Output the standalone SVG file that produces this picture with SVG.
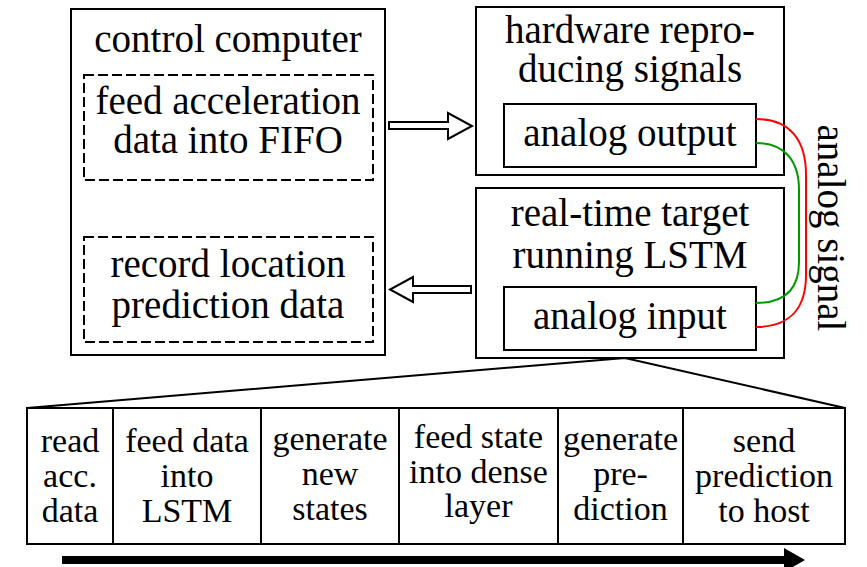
<svg xmlns="http://www.w3.org/2000/svg" width="867" height="567" viewBox="0 0 867 567">
<style>
.box{fill:none;stroke:#000;stroke-width:2}
.dash{fill:none;stroke:#000;stroke-width:2;stroke-dasharray:10 4}
text{font-family:'Liberation Serif','Times New Roman',Times,serif;fill:#000;text-anchor:middle}
.t{font-size:39px}
.s{font-size:34px}
.hollow{fill:#fff;stroke:#000;stroke-width:2;stroke-linejoin:miter}
</style>
<rect width="867" height="567" fill="#fff"/>
<g id="control-computer">
<rect class="box" x="71" y="9" width="314" height="346"/>
<text class="t" x="228" y="52">control computer</text>
</g>
<g id="feed-fifo">
<rect class="dash" x="84" y="75" width="289" height="105"/>
<text class="t" x="228" y="114">feed acceleration</text>
<text class="t" x="228" y="153">data into FIFO</text>
</g>
<g id="record-prediction">
<rect class="dash" x="84" y="237" width="289" height="105"/>
<text class="t" x="228" y="277">record location</text>
<text class="t" x="228" y="318">prediction data</text>
</g>
<g id="hardware">
<rect class="box" x="476" y="7" width="308" height="168"/>
<text class="t" x="630" y="43">hardware repro-</text>
<text class="t" x="630" y="82">ducing signals</text>
</g>
<g id="analog-output">
<rect class="box" x="504" y="104" width="252" height="63"/>
<text class="t" x="630" y="146">analog output</text>
</g>
<g id="realtime-target">
<rect class="box" x="476" y="188" width="308" height="170"/>
<text class="t" x="630" y="226">real-time target</text>
<text class="t" x="630" y="268">running LSTM</text>
</g>
<g id="analog-input">
<rect class="box" x="504" y="287" width="252" height="63"/>
<text class="t" x="630" y="329">analog input</text>
</g>
<g id="signal-label">
<text class="t" transform="translate(818 228) rotate(90)" x="0" y="0">analog signal</text>
</g>
<g id="steps">
<rect class="box" x="27" y="408" width="818" height="136"/>
<line class="box" x1="113" y1="408" x2="113" y2="544"/>
<line class="box" x1="261" y1="408" x2="261" y2="544"/>
<line class="box" x1="399" y1="408" x2="399" y2="544"/>
<line class="box" x1="558" y1="408" x2="558" y2="544"/>
<line class="box" x1="683" y1="408" x2="683" y2="544"/>
<text class="s" x="70" y="452">read</text>
<text class="s" x="70" y="487">acc.</text>
<text class="s" x="70" y="522">data</text>
<text class="s" x="187" y="452">feed data</text>
<text class="s" x="187" y="487">into</text>
<text class="s" x="187" y="522">LSTM</text>
<text class="s" x="330" y="450">generate</text>
<text class="s" x="330" y="485">new</text>
<text class="s" x="330" y="520">states</text>
<text class="s" x="478.5" y="448">feed state</text>
<text class="s" x="478.5" y="483">into dense</text>
<text class="s" x="478.5" y="517">layer</text>
<text class="s" x="620.5" y="450">generate</text>
<text class="s" x="620.5" y="485">pre-</text>
<text class="s" x="620.5" y="520">diction</text>
<text class="s" x="764" y="452">send</text>
<text class="s" x="764" y="487">prediction</text>
<text class="s" x="764" y="522">to host</text>
</g>
<g id="connectors">
<polygon class="hollow" points="389,122 448,122 448,113 472,126 448,139 448,129 389,129"/>
<polygon class="hollow" points="471,286 413,286 413,277 390,289.5 413,302 413,293 471,293"/>
<path d="M756,119 C790,119 806,140 806,175 L806,275 C806,308 790,327 756,327" fill="none" stroke="#f00" stroke-width="2"/>
<path d="M756,143 C784,143 799,160 799,190 L799,262 C799,290 784,303 756,303" fill="none" stroke="#090" stroke-width="2"/>
<polyline points="27,408 625,358 845,408" fill="none" stroke="#000" stroke-width="2"/>
<rect x="62" y="556" width="723" height="8" fill="#000"/>
<polygon points="784,548 805,560 784,572" fill="#000"/>
</g>
</svg>
